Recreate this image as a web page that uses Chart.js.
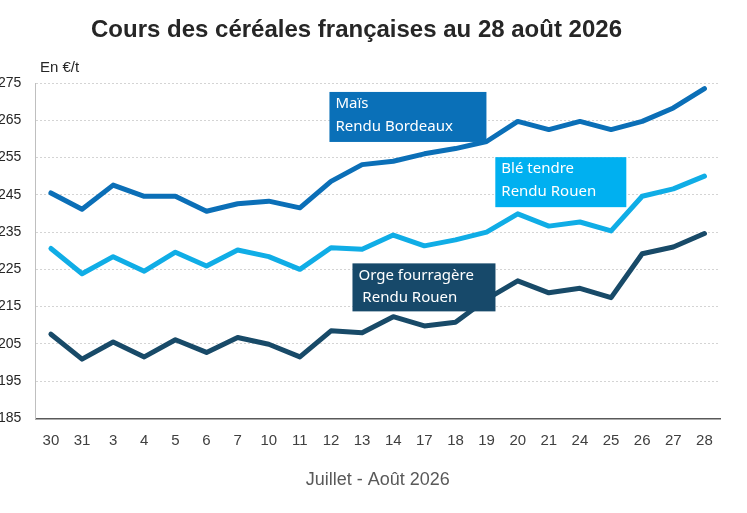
<!DOCTYPE html>
<html lang="fr">
<head>
<meta charset="utf-8">
<title>Cours des céréales françaises</title>
<script src="https://cdn.jsdelivr.net/npm/chart.js@4.4.1/dist/chart.umd.min.js"></script>
<style>
  html, body { margin:0; padding:0; background:#fff; overflow:hidden; }
  #wrap { position:absolute; left:-19px; top:0; width:766px; height:513px; }
  #title { position:absolute; left:0; top:14px; width:713px; text-align:center;
           font:bold 24px "Liberation Sans", Arial, sans-serif; line-height:29px; color:#262626; }
  #unit { position:absolute; left:40px; top:58px; font:15px "Liberation Sans", Arial, sans-serif; color:#262626; }
</style>
</head>
<body>
<div id="wrap"><canvas id="chartCanvas"></canvas></div>
<div id="title">Cours des céréales françaises au 28 août 2026</div>
<div id="unit">En €/t</div>
<script>
// jours de cotation (juillet - août)
const days = ['30','31','3','4','5','6','7','10','11','12','13','14','17','18','19','20','21','24','25','26','27','28'];

// prix en €/t
const maisValues = [245.5, 241.1, 247.6, 244.6, 244.6, 240.6, 242.6, 243.3, 241.5, 248.6, 253.1, 254.0, 256.0, 257.4, 259.3, 264.7, 262.5, 264.7, 262.5, 264.7, 268.3, 273.5];
const bleValues  = [230.6, 223.8, 228.4, 224.5, 229.6, 225.9, 230.2, 228.4, 225.0, 230.8, 230.4, 234.2, 231.3, 232.9, 235.0, 239.9, 236.6, 237.7, 235.3, 244.6, 246.6, 250.0];
const orgeValues = [207.6, 200.9, 205.5, 201.5, 206.1, 202.7, 206.7, 204.9, 201.5, 208.5, 208.0, 212.3, 209.8, 210.8, 217.0, 221.9, 218.7, 219.9, 217.4, 229.2, 231.0, 234.6];

const seriesNames = ['Maïs', 'Blé tendre', 'Orge fourragère'];
const seriesColors = ['#0b6fb7', '#10ade6', '#184a68'];

// étiquettes posées dans le graphique : coin haut-gauche en (index jour, valeur)
const labelTexts = [['Maïs', 'Rendu Bordeaux'], ['Blé tendre', 'Rendu Rouen'], ['Orge fourragère', ' Rendu Rouen']];
const labelColors = ['#0a70b8', '#00b0f0', '#17496a'];
const labelAnchors = [[8.95, 272.6], [14.28, 255.1], [9.69, 226.6]];
const labelSizes = [[157, 50], [131, 50], [143, 48]];

const labelBoxes = {
  id: 'labelBoxes',
  afterDatasetsDraw(chart){
    const {ctx, scales:{x, y}} = chart;
    ctx.save();
    labelTexts.forEach((lines, i) => {
      const px = x.getPixelForValue(labelAnchors[i][0]);
      const py = y.getPixelForValue(labelAnchors[i][1]);
      const [w, h] = labelSizes[i];
      ctx.fillStyle = labelColors[i];
      ctx.fillRect(px, py, w, h);
      ctx.fillStyle = '#fff';
      ctx.font = '15px "Noto Sans", sans-serif';
      ctx.textBaseline = 'middle';
      ctx.textAlign = 'left';
      ctx.fillText(lines[0], px + 6, py + 12);
      ctx.fillText(lines[1], px + 6, py + 34.5);
    });
    ctx.restore();
  }
};

const ctx = document.getElementById('chartCanvas').getContext('2d');
const mkSet = (label, data, color) => ({
  label, data, borderColor: color, backgroundColor: color,
  borderWidth: 5, pointRadius: 0, tension: 0, fill: false,
  borderJoinStyle: 'round', borderCapStyle: 'round'
});

new Chart(ctx, {
  type: 'line',
  data: {
    labels: days,
    datasets: [
      mkSet(seriesNames[0], maisValues, seriesColors[0]),
      mkSet(seriesNames[1], bleValues, seriesColors[1]),
      mkSet(seriesNames[2], orgeValues, seriesColors[2])
    ]
  },
  options: {
    responsive: true,
    maintainAspectRatio: false,
    animation: false,
    layout: { padding: { left: 3, right: 27, top: 83, bottom: 18 } },
    plugins: {
      legend: { display: false },
      tooltip: { enabled: false },
      title: { display: false }
    },
    scales: {
      x: {
        offset: true,
        grid: { display: true, color: 'rgba(0,0,0,0)', drawTicks: false },
        border: { display: true, color: '#595959', width: 1.5 },
        ticks: { color: '#404040', font: { family: '"Liberation Sans", Arial, sans-serif', size: 15 }, padding: 13, autoSkip: false, maxRotation: 0 },
        title: {
          display: true, text: 'Juillet - Août 2026', color: '#595959',
          font: { family: '"Liberation Sans", Arial, sans-serif', size: 18 }, padding: { top: 7 }
        }
      },
      y: {
        min: 185, max: 275,
        grid: { color: '#d4d4d4', lineWidth: 1, drawTicks: false },
        border: { display: true, color: '#bfbfbf', width: 1, dash: [2, 2] },
        ticks: { stepSize: 10, color: '#262626', font: { family: '"Liberation Sans", Arial, sans-serif', size: 14 }, padding: 14 }
      }
    }
  },
  plugins: [labelBoxes]
});
</script>
</body>
</html>
